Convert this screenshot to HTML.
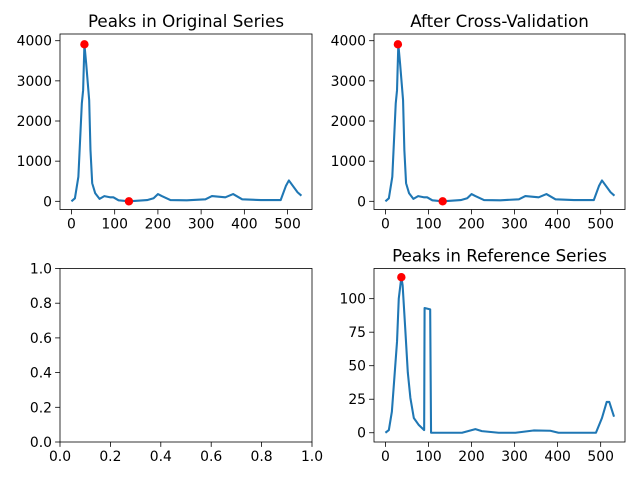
<!DOCTYPE html>
<html><head><meta charset="utf-8"><style>
body{margin:0;background:#fff}
svg{display:block}
text{font-family:"DejaVu Sans","Liberation Sans",sans-serif;fill:#000}
</style></head><body>
<svg id="fig" width="640" height="480" viewBox="0 0 640 480"></svg>
<script>
// --- data ---
const origX = [0,8,16,24,27,30,34,41,44,48,55,65,76,89,97,109,133,175,190,200,209,229,267,310,325,356,374,395,438,484,496,503,523,532];
const origY = [0,75,610,2440,2770,3910,3440,2520,1280,450,200,60,130,100,100,25,0,30,75,180,130,30,25,50,130,100,180,50,30,30,380,520,225,140];
const origPeaksX = [30,133];
const origPeaksY = [3910,0];
const cvX = [0,8,16,24,27,30,34,41,44,48,55,65,76,89,97,109,133,175,190,200,209,229,267,310,325,356,374,395,438,484,496,503,523,532];
const cvY = [0,75,610,2440,2770,3910,3440,2520,1280,450,200,60,130,100,100,25,0,30,75,180,130,30,25,50,130,100,180,50,30,30,380,520,225,140];
const cvPeaksX = [29,133];
const cvPeaksY = [3910,0];
const refX = [0,8,15,27,31,37,40,46,52,58,66,77,90,91,104,106,178,209,224,263,302,344,383,402,456,489,503,514,520,531];
const refY = [0,2,15.7,68,100,116,110,78,45,26,11,6,2,93,92,0,0,2.7,1.2,0,0,1.7,1.5,0,0,0,11,23,23,12];
const refPeaksX = [37];
const refPeaksY = [116];
const xTicksTop = [0,100,200,300,400,500];
const yTicksTop = [0,1000,2000,3000,4000];
const yTicksRef = [0,25,50,75,100];
const unitTicks = [0,0.2,0.4,0.6,0.8,1.0];
const unitLabels = ["0.0","0.2","0.4","0.6","0.8","1.0"];

const NS="http://www.w3.org/2000/svg";
const fig=document.getElementById('fig');
function mk(tag,attrs,parent){const e=document.createElementNS(NS,tag);for(const k in attrs)e.setAttribute(k,attrs[k]);(parent||fig).appendChild(e);return e;}

function axes(name,L,T,R,B,xmin,xmax,ymin,ymax,xt,xl,yt,yl,title){
  const g=mk('g',{});
  
  
  const sx=v=>L+(v-xmin)/(xmax-xmin)*(R-L);
  const sy=v=>B-(v-ymin)/(ymax-ymin)*(B-T);
  xt.forEach((v,i)=>{const x=sx(v);
    const t=mk('line',{x1:x,x2:x,y1:B,y2:B+4.9,stroke:'#000','stroke-width':0.8},g);
    
    
    const tx=mk('text',{x:x,y:B+19,'font-size':13.9,'text-anchor':'middle'},g);tx.textContent=xl[i];
    
    
  });
  yt.forEach((v,i)=>{const y=sy(v);
    const t=mk('line',{x1:L-4.9,x2:L,y1:y,y2:y,stroke:'#000','stroke-width':0.8},g);
    
    
    const tx=mk('text',{x:L-8,y:y+5,'font-size':13.9,'text-anchor':'end'},g);tx.textContent=yl[i];
    
    
  });
  if(title){const tt=mk('text',{x:(L+R)/2,y:T-7,'font-size':16.7,'text-anchor':'middle'},g);tt.textContent=title;
    
    }
  return {g,sx,sy,L,T,R,B};
}
function frame(a){const r=mk('rect',{x:a.L,y:a.T,width:a.R-a.L,height:a.B-a.T,fill:'none',stroke:'#000','stroke-width':0.8},a.g);
  
  }
function series(a,xs,ys,px,py){
  const d=xs.map((v,i)=>(i?'L':'M')+a.sx(v).toFixed(2)+','+a.sy(ys[i]).toFixed(2)).join(' ');
  const p=mk('path',{d:d,fill:'none',stroke:'#1f77b4','stroke-width':2.08,'stroke-linejoin':'round'},a.g);
  
  
  px.forEach((v,i)=>{const c=mk('circle',{cx:a.sx(v),cy:a.sy(py[i]),r:4.2,fill:'#ff0000'},a.g);
    
    });
  frame(a);
}
const xl=xTicksTop.map(String);
const a1=axes('original-series-axes',60,34,312,209.5,-26.5,556.5,-204,4167,xTicksTop,xl,yTicksTop,yTicksTop.map(String),'Peaks in Original Series');
series(a1,origX,origY,origPeaksX,origPeaksY);
const a2=axes('cross-validation-axes',374,34,625,209.5,-26.5,556.5,-204,4167,xTicksTop,xl,yTicksTop,yTicksTop.map(String),'After Cross-Validation');
series(a2,cvX,cvY,cvPeaksX,cvPeaksY);
const a3=axes('empty-axes',60,268.5,312,442,0,1,0,1,unitTicks,unitLabels,unitTicks,unitLabels,'');
frame(a3);
const a4=axes('reference-series-axes',374,268.5,625,442,-26.5,556.5,-6.9,122.5,xTicksTop,xl,yTicksRef,yTicksRef.map(String),'Peaks in Reference Series');
series(a4,refX,refY,refPeaksX,refPeaksY);
</script>
</body></html>
